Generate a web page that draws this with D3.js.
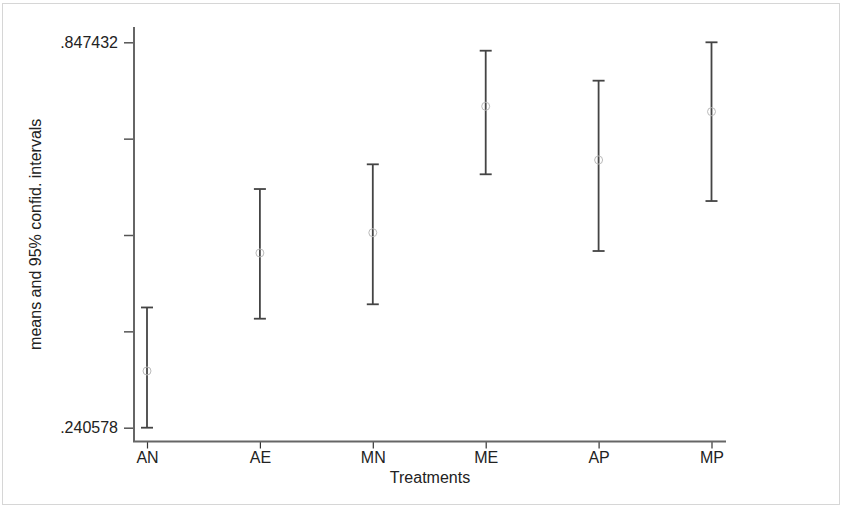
<!DOCTYPE html>
<html>
<head>
<meta charset="utf-8">
<script src="https://cdn.jsdelivr.net/npm/d3@7"></script>
<style>
  body { margin: 0; background: #fff; }
  text { font-family: "Liberation Sans", Arial, sans-serif; fill: #222; }
</style>
</head>
<body>
<div id="chart"></div>
<script>
const treatments = ["AN", "AE", "MN", "ME", "AP", "MP"];
const means = [0.3299, 0.5157, 0.5476, 0.7467, 0.6621, 0.7382];
const lower = [0.240578, 0.4122, 0.4349, 0.6396, 0.5188, 0.5975];
const upper = [0.4299, 0.6164, 0.6553, 0.8342, 0.7870, 0.847432];
const yTickValues = [0.240578, 0.392292, 0.544005, 0.695719, 0.847432];
const yTickLabels = [".240578", "", "", "", ".847432"];

const width = 843, height = 506;
const plot = {left: 134, right: 726, top: 27, bottom: 441.5};

let svg = d3.select("#chart")
    .append("svg")
    .attr("width", width)
    .attr("height", height);

// outer frame
svg.append("rect")
    .attr("x", 2.5).attr("y", 3.5)
    .attr("width", 837).attr("height", 501)
    .attr("fill", "none")
    .attr("stroke", "#d6d6d6");

let x = d3.scalePoint()
    .domain(treatments)
    .range([147, 711.5]);

let y = d3.scaleLinear()
    .domain([0.240578, 0.847432])
    .range([427.7, 42.3]);

// y axis
let yAxis = svg.append("g")
    .attr("transform", `translate(${plot.left},0)`)
    .call(d3.axisLeft(y)
        .tickValues(yTickValues)
        .tickFormat((d, i) => yTickLabels[i])
        .tickSize(10)
        .tickPadding(6));
yAxis.select(".domain").remove();
yAxis.selectAll("line").attr("stroke", "#555").attr("stroke-width", 1.5);
yAxis.selectAll("text").style("font-size", "16px").attr("fill", "#222");

// x axis
let xAxis = svg.append("g")
    .attr("transform", `translate(0,${plot.bottom})`)
    .call(d3.axisBottom(x).tickSize(7).tickPadding(3));
xAxis.select(".domain").remove();
xAxis.selectAll("line").attr("stroke", "#333").attr("stroke-width", 1.2);
xAxis.selectAll("text").style("font-size", "16px").attr("fill", "#222");

// spines
svg.append("path")
    .attr("d", `M${plot.left},${plot.top}V${plot.bottom}H${plot.right}`)
    .attr("fill", "none")
    .attr("stroke", "#666")
    .attr("stroke-width", 2);

// axis titles
svg.append("text")
    .attr("x", (plot.left + plot.right) / 2)
    .attr("y", 483)
    .style("text-anchor", "middle")
    .style("font-size", "16px")
    .text("Treatments");

svg.append("text")
    .attr("transform", `translate(41,${(plot.top + plot.bottom) / 2}) rotate(-90)`)
    .style("text-anchor", "middle")
    .style("font-size", "16px")
    .text("means and 95% confid. intervals");

// error bars
let bars = svg.append("g").selectAll("g")
    .data(treatments)
    .enter()
    .append("g");

bars.append("line")
    .attr("x1", d => x(d)).attr("x2", d => x(d))
    .attr("y1", (d, i) => y(lower[i]))
    .attr("y2", (d, i) => y(upper[i]))
    .attr("stroke", "#444").attr("stroke-width", 1.8);

bars.append("line")
    .attr("x1", d => x(d) - 6).attr("x2", d => x(d) + 6)
    .attr("y1", (d, i) => y(upper[i]))
    .attr("y2", (d, i) => y(upper[i]))
    .attr("stroke", "#444").attr("stroke-width", 1.8);

bars.append("line")
    .attr("x1", d => x(d) - 6).attr("x2", d => x(d) + 6)
    .attr("y1", (d, i) => y(lower[i]))
    .attr("y2", (d, i) => y(lower[i]))
    .attr("stroke", "#444").attr("stroke-width", 1.8);

bars.append("circle")
    .attr("cx", d => x(d))
    .attr("cy", (d, i) => y(means[i]))
    .attr("r", 4)
    .attr("fill", "none")
    .attr("stroke", "#bbb")
    .attr("stroke-width", 1);
</script>
</body>
</html>
